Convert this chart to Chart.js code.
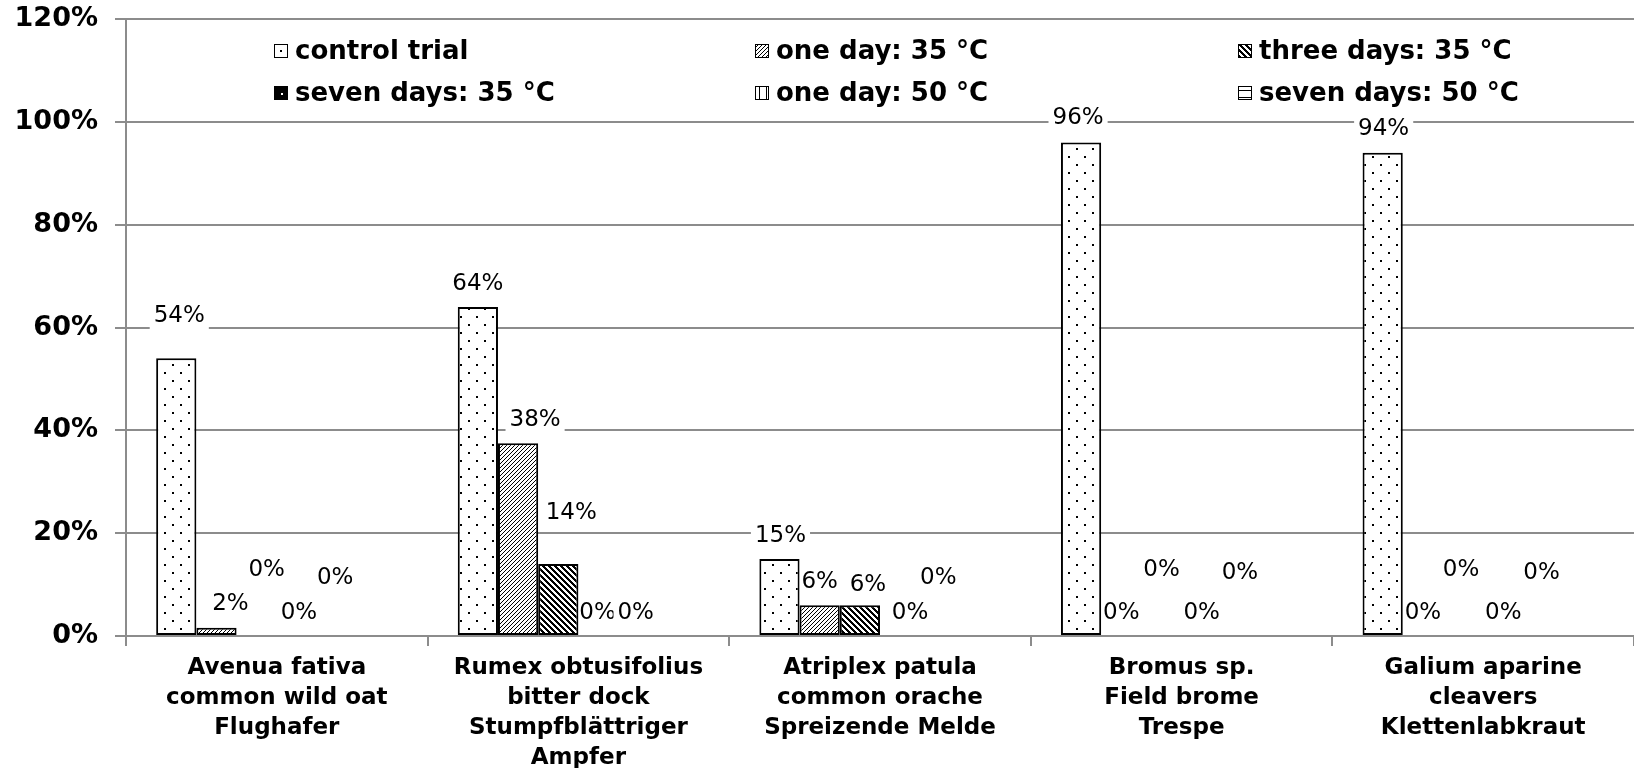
<!DOCTYPE html>
<html lang="en">

<head>
    <meta charset="UTF-8">
    <title>Germination after heat treatment</title>
    <script src="https://cdn.jsdelivr.net/npm/chart.js@4.4.1/dist/chart.umd.min.js"></script>
    <style>
        body { margin: 0; background: #fff; }
        canvas { display: block; }
    </style>
</head>

<body>
    <canvas id="chart" width="1634" height="768"></canvas>
    <script>
        const species = [
            ['Avenua fativa', 'common wild oat', 'Flughafer'],
            ['Rumex obtusifolius', 'bitter dock', 'Stumpfblättriger', 'Ampfer'],
            ['Atriplex patula', 'common orache', 'Spreizende Melde'],
            ['Bromus sp.', 'Field brome', 'Trespe'],
            ['Galium aparine', 'cleavers', 'Klettenlabkraut']
        ];
        const seriesNames = ['control trial', 'one day: 35 °C', 'three days: 35 °C',
            'seven days: 35 °C', 'one day: 50 °C', 'seven days: 50 °C'];
        const control = [54, 64, 15, 96, 94];
        const oneDay35 = [1.6, 37.5, 6, 0, 0];
        const threeDays35 = [0, 14, 6, 0, 0];
        const sevenDays35 = [0, 0, 0, 0, 0];
        const oneDay50 = [0, 0, 0, 0, 0];
        const sevenDays50 = [0, 0, 0, 0, 0];
        const yTicks = [0, 20, 40, 60, 80, 100, 120];

        // where excel left each value label, [dx, dy] from the bar top (null = no label)
        const labelNudge = [
            [[3, -42], [0, -23], [1, -23], [-3, -24], [1, -24]],
            [[14, -24], [17, -23], [0, -23], [0, -23], [0, -23]],
            [[10, -66], [13, -51], [8, -20], [0, -66], [-2, -66]],
            [[2, -23], [-1, -23], [10, -23], [0, -23], [0, -23]],
            [[-2, -58], [-3, -23], [-2, -58], [-2, -63], [-2, -63]],
            [null, null, null, null, null]
        ];

        const grey = '#8c8c8c';
        const font = 'DejaVu Sans';

        function tile(w, h, draw) {
            const c = document.createElement('canvas');
            c.width = w; c.height = h;
            const g = c.getContext('2d');
            g.fillStyle = '#fff';
            g.fillRect(0, 0, w, h);
            g.fillStyle = '#000';
            draw(g);
            return document.getElementById('chart').getContext('2d').createPattern(c, 'repeat');
        }
        function diagonal(n, t, up) {
            return tile(n, n, g => {
                for (let y = 0; y < n; y++) {
                    for (let k = 0; k < t; k++) {
                        const x = ((up ? n - 1 - y : y) + k) % n;
                        g.fillRect(x, y, 1, 1);
                    }
                }
            });
        }

        const fills = [
            tile(16, 16, g => { g.fillRect(4, 4, 2, 2); g.fillRect(12, 12, 2, 2); }),
            diagonal(4, 1, true),
            diagonal(6, 3, false),
            tile(8, 8, g => { g.fillRect(0, 0, 8, 8); g.fillStyle = '#fff'; g.fillRect(5, 5, 2, 2); }),
            tile(7, 7, g => { g.fillRect(3, 0, 1, 7); }),
            tile(7, 7, g => { g.fillRect(0, 3, 7, 1); })
        ];
        const values = [control, oneDay35, threeDays35, sevenDays35, oneDay50, sevenDays50];

        const valueLabels = {
            id: 'valueLabels',
            beforeDatasetsDraw(chart) {
                const ctx = chart.ctx;
                ctx.save();
                ctx.font = '23px "' + font + '"';
                ctx.textAlign = 'center';
                ctx.textBaseline = 'middle';
                chart.data.datasets.forEach((ds, j) => {
                    chart.getDatasetMeta(j).data.forEach((bar, i) => {
                        const n = labelNudge[j][i];
                        if (!n) return;
                        const txt = Math.round(ds.data[i]) + '%';
                        const x = bar.x + n[0], y = bar.y + n[1];
                        const w = ctx.measureText(txt).width + 8;
                        ctx.fillStyle = '#fff';
                        ctx.fillRect(x - w / 2, y - 14, w, 28);
                        ctx.fillStyle = '#000';
                        ctx.fillText(txt, x, y);
                    });
                });
                ctx.restore();
            }
        };

        const boxLegend = {
            id: 'boxLegend',
            afterDraw(chart) {
                const ctx = chart.ctx;
                const cols = [274, 755, 1238], rows = [51, 93];
                ctx.save();
                ctx.font = 'bold 26px "' + font + '"';
                ctx.textBaseline = 'middle';
                chart.data.datasets.forEach((ds, j) => {
                    const x = cols[j % 3], y = rows[Math.floor(j / 3)];
                    // shift the pattern origin so the swatch shows a centred motif
                    ctx.save();
                    ctx.translate(x - 6, y - 13);
                    ctx.fillStyle = ds.backgroundColor;
                    ctx.fillRect(6, 6, 14, 14);
                    ctx.restore();
                    ctx.strokeStyle = '#000';
                    ctx.lineWidth = 1;
                    ctx.strokeRect(x + 0.5, y - 6.5, 13, 13);
                    ctx.fillStyle = '#000';
                    ctx.fillText(ds.label, x + 21, y + 1);
                });
                ctx.restore();
            }
        };

        const ctx = document.getElementById('chart').getContext('2d');
        new Chart(ctx, {
            type: 'bar',
            data: {
                labels: species,
                datasets: seriesNames.map((name, j) => ({
                    label: name,
                    data: values[j],
                    backgroundColor: fills[j],
                    borderColor: '#000',
                    borderWidth: 2,
                    borderSkipped: false,
                    categoryPercentage: 0.8,
                    barPercentage: 1.0
                }))
            },
            options: {
                responsive: false,
                animation: false,
                layout: { padding: { top: 19, right: 0, left: 0, bottom: 0 } },
                plugins: {
                    legend: { display: false },
                    tooltip: { enabled: false }
                },
                scales: {
                    x: {
                        offset: true,
                        grid: { offset: true, drawOnChartArea: false, drawTicks: true, tickLength: 10, color: grey, lineWidth: 2 },
                        border: { display: true, color: grey, width: 2 },
                        ticks: { color: '#000', padding: 7, maxRotation: 0, autoSkip: false,
                            font: { family: font, size: 23, weight: 'bold', lineHeight: 1.3 } },
                        afterFit: s => { s.height = 132; }
                    },
                    y: {
                        min: 0,
                        max: 120,
                        afterBuildTicks: s => { s.ticks = yTicks.map(v => ({ value: v })); },
                        grid: { color: grey, lineWidth: 2, tickLength: 11 },
                        border: { display: true, color: grey, width: 2 },
                        ticks: { color: '#000', padding: 17, callback: v => v + '%',
                            font: { family: font, size: 27, weight: 'bold' } },
                        afterFit: s => { s.width = 126; s.paddingTop = 0; s.paddingBottom = 0; }
                    }
                }
            },
            plugins: [valueLabels, boxLegend]
        });
    </script>
</body>

</html>
